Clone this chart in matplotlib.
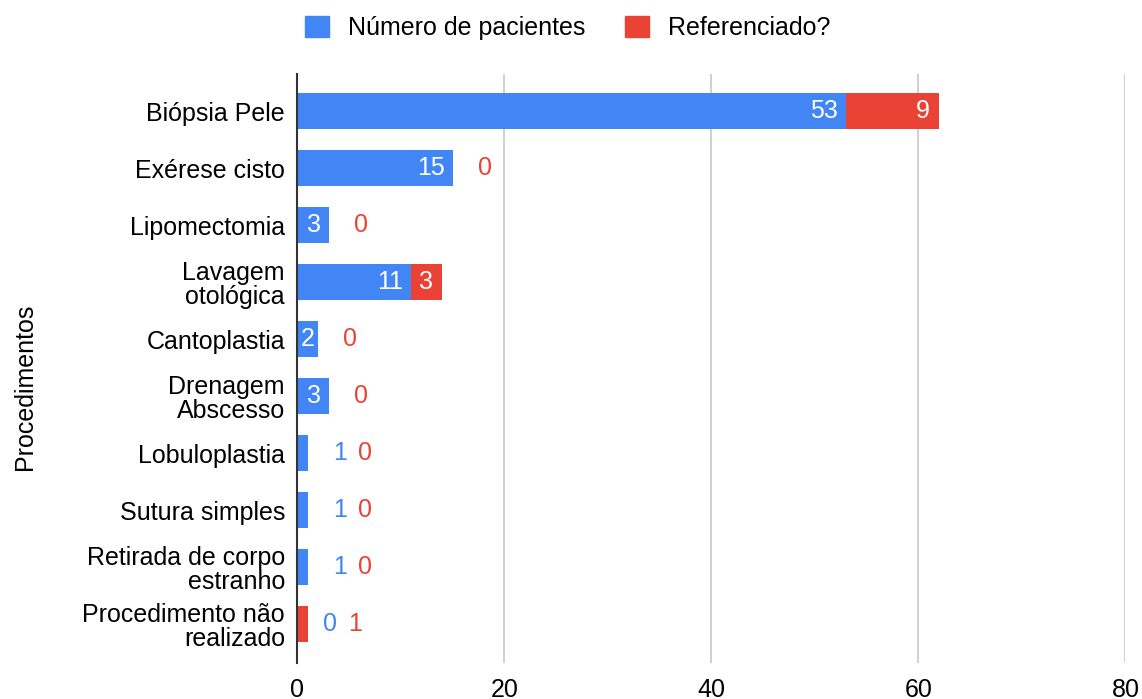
import matplotlib
matplotlib.use("Agg")
import matplotlib.pyplot as plt
from matplotlib.patches import Patch

plt.rcParams['font.family'] = ['Liberation Sans', 'DejaVu Sans']

procedimentos = ['Biópsia Pele', 'Exérese cisto', 'Lipomectomia', 'Lavagem\notológica',
                 'Cantoplastia', 'Drenagem\nAbscesso', 'Lobuloplastia', 'Sutura simples',
                 'Retirada de corpo\nestranho', 'Procedimento não\nrealizado']
num_pacientes = [53, 15, 3, 11, 2, 3, 1, 1, 1, 0]
referenciado = [9, 0, 0, 3, 0, 0, 0, 0, 0, 1]
xticks = [0, 20, 40, 60, 80]

BLUE = '#4285F4'
RED = '#EA4335'

fig = plt.figure(figsize=(11.42, 6.99), dpi=100)
ax = fig.add_axes([0.2605, 0.0515, 0.725, 0.8425])

y = range(len(procedimentos))
h = 0.63
ax.barh(y, num_pacientes, height=h, color=BLUE, zorder=3)
ax.barh(y, referenciado, left=num_pacientes, height=h, color=RED, zorder=3)

# rotulos dos valores: dentro da barra se couber, senao fora
px = 0.72
fs_val = 18
for i in y:
    b = num_pacientes[i]
    r = referenciado[i]
    fora = []
    if b >= 2:
        ax.annotate(str(b), (b, i), xytext=(-8 * px if b > 2 else -4 * px, 0),
                    textcoords='offset points', ha='right', va='center',
                    color='white', fontsize=fs_val, zorder=4)
    else:
        fora.append((str(b), BLUE))
    if r >= 2:
        ax.annotate(str(r), (b + r, i), xytext=(-9 * px, 0), textcoords='offset points',
                    ha='right', va='center', color='white', fontsize=fs_val, zorder=4)
    else:
        fora.append((str(r), RED))
    off = 25 if b > 0 else 15
    for txt, cor in fora:
        ax.annotate(txt, (b + r, i), xytext=(off * px, 0), textcoords='offset points',
                    ha='left', va='center', color=cor, fontsize=fs_val, zorder=4)
        off += 25

ax.set_yticks(list(y))
ax.set_yticklabels(procedimentos, fontsize=18, linespacing=1.03)
ax.set_ylim(9.684, -0.649)
ax.set_xlim(0, 80)
ax.set_xticks(xticks)
ax.set_xticklabels([str(t) for t in xticks], fontsize=18)
ax.tick_params(length=0, pad=9)
ax.tick_params(axis='x', pad=11)
ax.grid(axis='x', color='#cccccc', linewidth=1.3, zorder=0)
for s in ['top', 'right', 'bottom']:
    ax.spines[s].set_visible(False)
ax.spines['left'].set_color('#333333')
ax.spines['left'].set_linewidth(1.5)
ax.spines['left'].set_zorder(5)

fig.text(25 / 1142, 1 - 387 / 699, 'Procedimentos', rotation=90, ha='center',
         va='center', fontsize=18)

handles = [Patch(color=BLUE, label='Número de pacientes'),
           Patch(color=RED, label='Referenciado?')]
fig.legend(handles=handles, loc='center', bbox_to_anchor=(0.497, 0.96), ncol=2,
           frameon=False, fontsize=18, handlelength=0.95, handleheight=0.95,
           columnspacing=1.6, handletextpad=0.75)

fig.savefig('out.png', dpi=100)
